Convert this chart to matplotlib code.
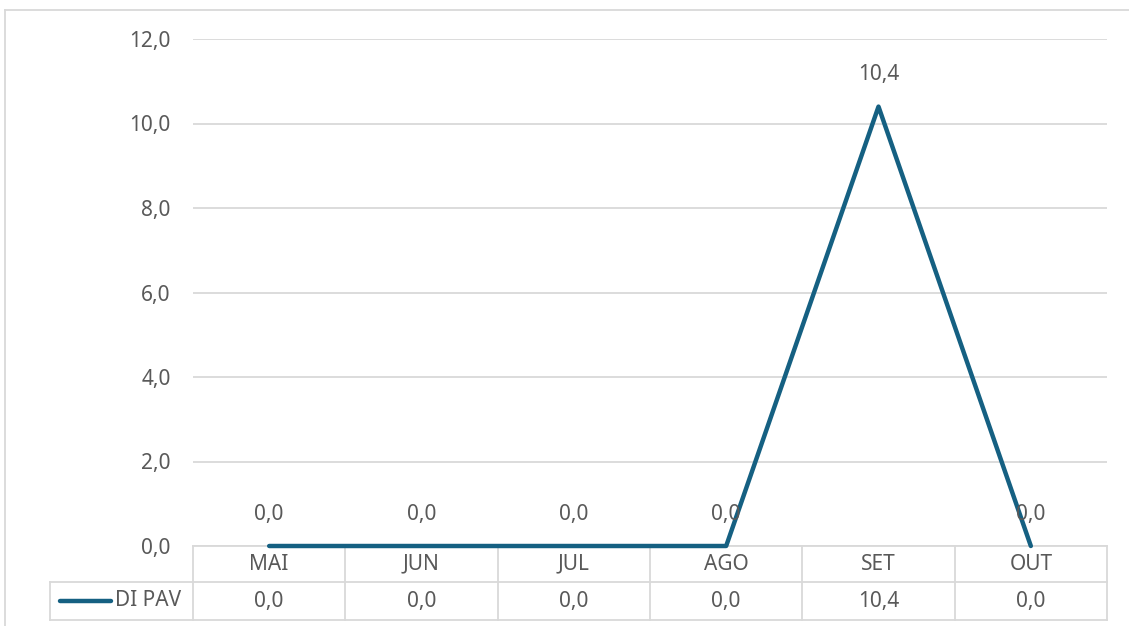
import matplotlib.pyplot as plt
import matplotlib.transforms as mtransforms
from matplotlib.lines import Line2D

months = ["MAI", "JUN", "JUL", "AGO", "SET", "OUT"]
di_pav = [0.0, 0.0, 0.0, 0.0, 10.4, 0.0]
series_name = "DI PAV"
y_ticks = [0, 2, 4, 6, 8, 10, 12]

LINE = "#156082"
TEXT = "#595959"
GRID = "#D9D9D9"
W, H = 1129, 626
FS = 15

plt.rcParams["font.family"] = ["Noto Sans", "DejaVu Sans"]


def fmt(v):
    return f"{v:.1f}".replace(".", ",")


def fig_line(x0, y0, x1, y1):
    # pixel coords of the reference, top-left origin
    fig.add_artist(Line2D([x0 / W, x1 / W], [1 - y0 / H, 1 - y1 / H],
                          color=GRID, lw=1.3))


fig = plt.figure(figsize=(W / 100, H / 100), dpi=100)
ax = fig.add_axes([193 / W, 1 - 546 / H, (1107 - 193) / W, 507 / H])

x = list(range(len(months)))
ax.plot(x, di_pav, color=LINE, lw=3.2, solid_capstyle="round",
        clip_on=False, zorder=5)
for xi, v in zip(x, di_pav):
    ax.annotate(fmt(v), (xi, v), xytext=(0, 23), textcoords="offset points",
                ha="center", va="center", fontsize=FS, color=TEXT, zorder=6)

ax.set_xlim(-0.5, len(months) - 0.5)
ax.set_ylim(0, 12)
ax.set_yticks(y_ticks)
ax.set_yticklabels([fmt(t) for t in y_ticks])
ax.tick_params(axis="y", length=0, pad=16, labelsize=FS, labelcolor=TEXT)
ax.set_xticks([])
for s in ax.spines.values():
    s.set_visible(False)
ax.grid(axis="y", color=GRID, lw=1.3)
ax.set_axisbelow(True)

# data table below the plot
tr = mtransforms.blended_transform_factory(ax.transData, ax.transAxes)
row1 = -36 / 507
row2 = -74 / 507
for i in range(len(months) + 1):
    ax.plot([i - 0.5, i - 0.5], [0, row2], transform=tr, color=GRID,
            lw=1.3, clip_on=False)
ax.plot([-0.5, len(months) - 0.5], [0, 0], transform=tr, color=GRID,
        lw=1.3, clip_on=False, zorder=1)
for i, (m, v) in enumerate(zip(months, di_pav)):
    ax.text(i, row1 / 2, m, transform=tr, ha="center", va="center",
            fontsize=FS, color=TEXT)
    ax.text(i, (row1 + row2) / 2, fmt(v), transform=tr, ha="center",
            va="center", fontsize=FS, color=TEXT)

fig_line(50, 582, 1107, 582)
fig_line(50, 620, 1107, 620)
fig_line(50, 582, 50, 620)
fig.add_artist(Line2D([60 / W, 111 / W], [1 - 601 / H, 1 - 601 / H],
                      color=LINE, lw=3.2, solid_capstyle="round"))
fig.text(115 / W, 1 - 601 / H, series_name, ha="left", va="center",
         fontsize=FS, color=TEXT)

# chart frame
fig_line(5, 10, W, 10)
fig_line(5, 10, 5, H)

fig.savefig("out.png", dpi=100)
